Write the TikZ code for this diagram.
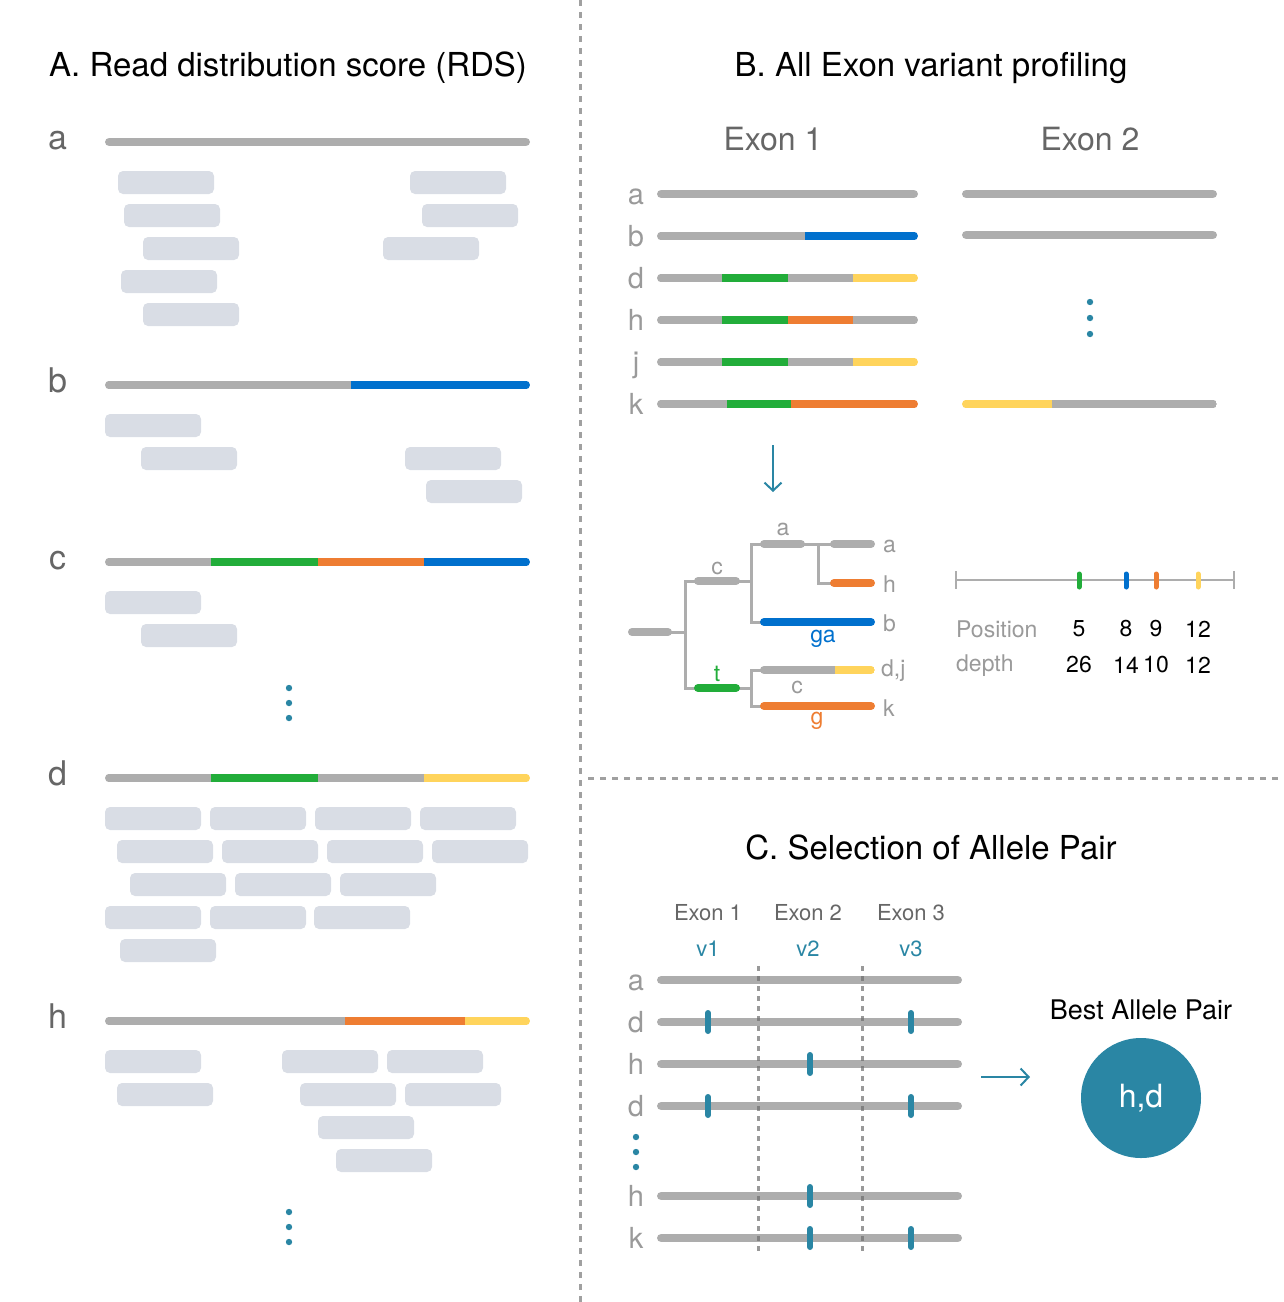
\documentclass[tikz,border=0pt]{standalone}
\usepackage{fontspec}
\setmainfont{TeX Gyre Heros}
\usetikzlibrary{arrows.meta}
\definecolor{lg}{HTML}{ADADAD}
\definecolor{vblue}{HTML}{0070CD}
\definecolor{vgreen}{HTML}{22AD3A}
\definecolor{vorange}{HTML}{EE7D32}
\definecolor{vyellow}{HTML}{FFD45C}
\definecolor{teal}{HTML}{2A86A4}
\definecolor{readc}{HTML}{D9DDE5}
\definecolor{labA}{HTML}{666666}
\definecolor{labB}{HTML}{9A9A9A}
\definecolor{divc}{HTML}{A0A0A0}
\newcommand{\rd}[2]{\fill[readbox] (#1,#2) rectangle ++(96,23);}
\newcommand{\sg}[4]{\draw[segline,#4] (#1,#3) -- (#2,#3);}
\newcommand{\cbar}[4]{\begin{scope}\clip[rounded corners=4.25pt] (#2,#1-4.25) rectangle (#3,#1+4.25); #4 \end{scope}}
\newcommand{\mk}[3]{\draw[marker,#3] (#1,#2-9) -- (#1,#2+9);}
\newcommand{\tdot}[2]{\fill[teal] (#1,#2) circle[radius=3.2pt];}
\begin{document}
\begin{tikzpicture}[x=1pt,y=-1pt,
  readbox/.style={fill=readc, rounded corners=5pt},
  segline/.style={line width=8.5pt, line cap=butt},
  fullbar/.style={line width=8.5pt, line cap=round, lg, shorten <=4.25pt, shorten >=4.25pt},
  marker/.style={line width=6pt, line cap=round},
  thinbar/.style={line width=8pt, line cap=round, shorten <=4pt, shorten >=4pt},
  conn/.style={line width=3pt, lg},
  title/.style={font=\fontsize{33}{40}\selectfont, inner sep=0pt, text=black},
  labAst/.style={font=\fontsize{34}{40}\selectfont, inner sep=0pt, text=labA, anchor=base},
  labBst/.style={font=\fontsize{29}{34}\selectfont, inner sep=0pt, text=labB, anchor=base},
  exonst/.style={font=\fontsize{32}{38}\selectfont, inner sep=0pt, text=labA},
  small/.style={font=\fontsize{23}{28}\selectfont, inner sep=0pt},
  cexon/.style={font=\fontsize{22}{26}\selectfont, inner sep=0pt, text=labA},
  divider/.style={divc, line width=3pt, dash pattern=on 6pt off 6pt},
  cdash/.style={draw=black!57, opacity=0.7, line width=3pt, dash pattern=on 5pt off 5pt},
  tarrow/.style={teal, line width=2pt, -{Straight Barb[length=8pt,width=17pt,line width=2pt]}}
]
\useasboundingbox (0,0) rectangle (1284,1302);

% ---------- dividers ----------
\draw[divider] (580.5,0) -- (580.5,1302);
\draw[divider] (588,778) -- (1284,778);

% ================= Panel A =================
\node[title] (tA) at (288,68) {A. Read distribution score (RDS)};

% a
\node[labAst] (la) at (58,149) {a};
\draw[fullbar] (105,142) -- (530,142);
\rd{118}{171}\rd{124}{204}\rd{143}{237}\rd{121}{270}\rd{143}{303}
\rd{410}{171}\rd{422}{204}\rd{383}{237}

% b
\node[labAst] (lb) at (58,392) {b};
\cbar{385}{105}{530}{\sg{105}{351}{385}{lg}\sg{351}{530}{385}{vblue}}
\rd{105}{414}\rd{141}{447}\rd{405}{447}\rd{426}{480}

% c
\node[labAst] (lc) at (58,569) {c};
\cbar{562}{105}{530}{\sg{105}{211}{562}{lg}\sg{211}{318}{562}{vgreen}\sg{318}{424}{562}{vorange}\sg{424}{530}{562}{vblue}}
\rd{105}{591}\rd{141}{624}
\tdot{289}{688}\tdot{289}{703}\tdot{289}{718}

% d
\node[labAst] (ld) at (58,785) {d};
\cbar{778}{105}{530}{\sg{105}{211}{778}{lg}\sg{211}{318}{778}{vgreen}\sg{318}{424}{778}{lg}\sg{424}{530}{778}{vyellow}}
\rd{105}{807}\rd{210}{807}\rd{315}{807}\rd{420}{807}
\rd{117}{840}\rd{222}{840}\rd{327}{840}\rd{432}{840}
\rd{130}{873}\rd{235}{873}\rd{340}{873}
\rd{105}{906}\rd{210}{906}\rd{314}{906}
\rd{120}{939}

% h
\node[labAst] (lh) at (58,1028) {h};
\cbar{1021}{105}{530}{\sg{105}{345}{1021}{lg}\sg{345}{465}{1021}{vorange}\sg{465}{530}{1021}{vyellow}}
\rd{105}{1050}\rd{282}{1050}\rd{387}{1050}
\rd{117}{1083}\rd{300}{1083}\rd{405}{1083}
\rd{318}{1116}
\rd{336}{1149}
\tdot{289}{1212}\tdot{289}{1227}\tdot{289}{1242}

% ================= Panel B =================
\node[title] (tB) at (931,68) {B. All Exon variant profiling};
\node[exonst] (e1) at (773,139) {Exon 1};
\node[exonst] (e2) at (1090,139) {Exon 2};

\node[labBst] (ba) at (636,204) {a};
\node[labBst] (bb) at (636,246) {b};
\node[labBst] (bd) at (636,288) {d};
\node[labBst] (bh) at (636,330) {h};
\node[labBst] (bj) at (636,372) {j};
\node[labBst] (bk) at (636,414) {k};

% exon 1 bars
\draw[fullbar] (657,194) -- (918,194);
\cbar{236}{657}{918}{\sg{657}{805}{236}{lg}\sg{805}{918}{236}{vblue}}
\cbar{278}{657}{918}{\sg{657}{722}{278}{lg}\sg{722}{788}{278}{vgreen}\sg{788}{853}{278}{lg}\sg{853}{918}{278}{vyellow}}
\cbar{320}{657}{918}{\sg{657}{722}{320}{lg}\sg{722}{788}{320}{vgreen}\sg{788}{853}{320}{vorange}\sg{853}{918}{320}{lg}}
\cbar{362}{657}{918}{\sg{657}{722}{362}{lg}\sg{722}{788}{362}{vgreen}\sg{788}{853}{362}{lg}\sg{853}{918}{362}{vyellow}}
\cbar{404}{657}{918}{\sg{657}{727}{404}{lg}\sg{727}{791}{404}{vgreen}\sg{791}{918}{404}{vorange}}

% exon 2 bars
\draw[fullbar] (962,194) -- (1217,194);
\draw[fullbar] (962,235) -- (1217,235);
\tdot{1090}{302}\tdot{1090}{318}\tdot{1090}{334}
\cbar{404}{962}{1217}{\sg{962}{1052}{404}{vyellow}\sg{1052}{1217}{404}{lg}}

% arrow down
\coordinate (adTop) at (773,445);
\coordinate (adBot) at (773,492);
\draw[tarrow] (adTop) -- (adBot);

% ---------- tree ----------
\coordinate (r0) at (628,632); \coordinate (r1) at (672,632);
\draw[conn] (668,632) -- (685,632);
\draw[thinbar, lg] (r0) -- (r1);
\draw[conn] (698,581) -| (685,688) -- (698,688);
\draw[conn] (736,581) -- (751,581);
\draw[conn] (736,688) -- (751,688);
\draw[thinbar, lg] (694,581) -- (740,581);
\draw[thinbar, vgreen] (694,688) -- (740,688);
\node[small, text=labB] (tc) at (717,568) {c};
\node[small, text=vgreen] (tt) at (717,674) {t};
% upper clade
\draw[conn] (764,544) -| (751,622) -- (764,622);
\draw[conn] (801,544) -- (834,544);
\draw[conn] (818,544) |- (834,583);
\draw[thinbar, lg] (760,544) -- (805,544);
\node[small, text=labB] (ta) at (783,529) {a};
\draw[thinbar, vblue] (760,622) -- (875,622);
\node[small, text=vblue] (tga) at (823,639) {ga};
\draw[thinbar, lg] (830,544) -- (875,544);
\draw[thinbar, vorange] (830,583) -- (875,583);
\node[small, text=labB, anchor=west] (ea) at (883,546) {a};
\node[small, text=labB, anchor=west] (eh) at (883,584) {h};
\node[small, text=labB, anchor=west] (eb) at (883,623) {b};
% lower clade
\draw[conn] (764,670) -| (751,706) -- (764,706);
\begin{scope}
\clip[rounded corners=4pt] (760,666) rectangle (875,674);
\draw[line width=8pt, lg] (760,670) -- (835,670);
\draw[line width=8pt, vyellow] (835,670) -- (875,670);
\end{scope}
\node[small, text=labB] (tc2) at (797,687) {c};
\draw[thinbar, vorange] (760,706) -- (875,706);
\node[small, text=vorange] (tg) at (817,721) {g};
\node[small, text=labB, anchor=west] (edj) at (881,671) {d,j};
\node[small, text=labB, anchor=west] (ek) at (883,708) {k};

% ---------- position track ----------
\draw[lg, line width=2.5pt] (956,580) -- (1234,580);
\draw[lg, line width=2.5pt] (956,571) -- (956,589);
\draw[lg, line width=2.5pt] (1234,571) -- (1234,589);
\draw[line width=5pt, line cap=round, vgreen] (1079,574) -- (1079,587);
\draw[line width=5pt, line cap=round, vblue] (1126,574) -- (1126,587);
\draw[line width=5pt, line cap=round, vorange] (1156,574) -- (1156,587);
\draw[line width=5pt, line cap=round, vyellow] (1198,574) -- (1198,587);
\node[small, text=labB, anchor=west] (pos) at (956,629) {Position};
\node[small, text=labB, anchor=west] (dep) at (956,666) {depth};
\node[small] (p5) at (1079,629) {5};
\node[small] (p8) at (1126,629) {8};
\node[small] (p9) at (1156,629) {9};
\node[small] (p12) at (1198,629) {12};
\node[small] (d26) at (1079,665) {26};
\node[small] (d14) at (1126,665) {14};
\node[small] (d10) at (1156,665) {10};
\node[small] (d12) at (1198,665) {12};

% ================= Panel C =================
\node[title] (tC) at (931,847) {C. Selection of Allele Pair};
\node[cexon] (c1) at (708,913) {Exon 1};
\node[cexon] (c2) at (808,913) {Exon 2};
\node[cexon] (c3) at (911,913) {Exon 3};
\node[cexon, text=teal] (v1) at (708,949) {v1};
\node[cexon, text=teal] (v2) at (808,949) {v2};
\node[cexon, text=teal] (v3) at (911,949) {v3};

\node[labBst] (ca) at (636,990) {a};
\node[labBst] (cd) at (636,1032) {d};
\node[labBst] (ch) at (636,1074) {h};
\node[labBst] (cd2) at (636,1116) {d};
\node[labBst] (ch2) at (636,1206) {h};
\node[labBst] (ck) at (636,1248) {k};
\tdot{636}{1137}\tdot{636}{1152}\tdot{636}{1167}

\foreach \yy in {980,1022,1064,1106,1196,1238}{\draw[fullbar] (657,\yy) -- (962,\yy);}
\draw[cdash] (758,966) -- (758,1253);
\draw[cdash] (862,966) -- (862,1253);
\mk{708}{1022}{teal}\mk{911}{1022}{teal}
\mk{810}{1064}{teal}
\mk{708}{1106}{teal}\mk{911}{1106}{teal}
\mk{810}{1196}{teal}
\mk{810}{1238}{teal}\mk{911}{1238}{teal}

\coordinate (arL) at (981,1077);
\coordinate (arR) at (1030,1077);
\draw[tarrow] (arL) -- (arR);

\node[font=\fontsize{27}{32}\selectfont, inner sep=0pt] (best) at (1141,1010) {Best Allele Pair};
\node[circle, fill=teal, minimum size=120pt, inner sep=0pt, text=white, font=\fontsize{32}{38}\selectfont] (hd) at (1141,1098) {h,d};
\end{tikzpicture}
\end{document}
